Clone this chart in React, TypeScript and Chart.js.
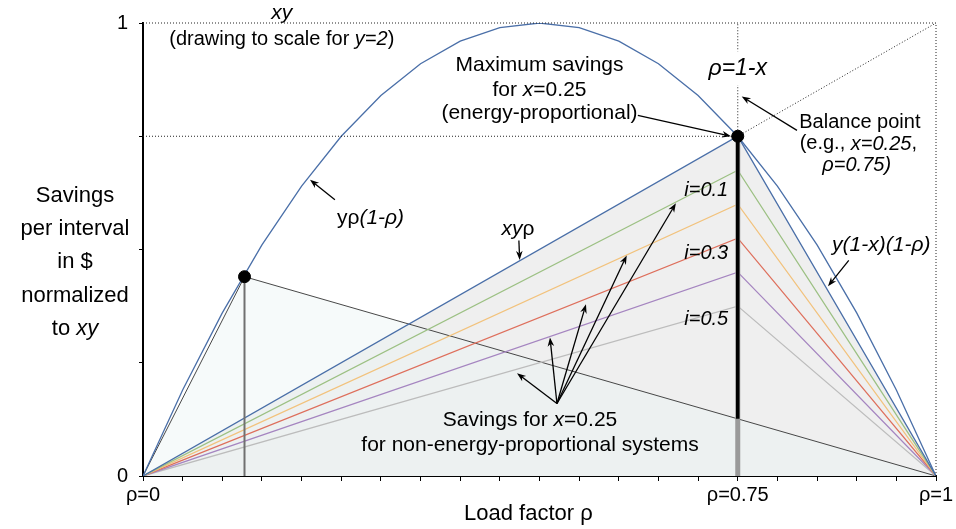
import { useEffect, useRef } from 'react';
import { Chart, registerables } from 'chart.js';
Chart.register(...registerables);

const FAM = '"Liberation Sans", Arial, Helvetica, sans-serif';

// Load factor grid and the drawn parabola y·ρ(1-ρ) normalized to xy (y=2, x=0.25)
const RHO_GRID = [0, 0.05, 0.1, 0.15, 0.2, 0.25, 0.3, 0.35, 0.4, 0.45, 0.5, 0.55, 0.6, 0.65, 0.7, 0.75, 0.8, 0.85, 0.9, 0.95, 1];
const PARABOLA = [0, 0.19, 0.36, 0.51, 0.64, 0.75, 0.84, 0.91, 0.96, 0.99, 1, 0.99, 0.96, 0.91, 0.84, 0.75, 0.64, 0.51, 0.36, 0.19, 0];

// Energy-proportional savings (xyρ up to balance, y(1-x)(1-ρ) after)
const KINK_RHO = [0, 0.75, 1];
const ENERGY_PROP = [0, 0.75, 0];

// Non-energy-proportional systems: value at the kink
const I_NAMES = ['i=0.1', 'i=0.2', 'i=0.3', 'i=0.4', 'i=0.5'];
const I_PEAKS = [0.675, 0.6, 0.525, 0.45, 0.375];

// Left point on the parabola and its triangle
const LEFT_RHO = [0, 0.128, 1];
const LEFT_VALS = [0, 0.44, 0];

// Balance point
const BALANCE_RHO = 0.75;
const BALANCE_VAL = 0.75;

const X_LABEL_VALUES = [0, 0.75, 1];
const X_LABEL_TEXT = ['ρ=0', 'ρ=0.75', 'ρ=1'];
const Y_LABEL_VALUES = [0, 1];
const Y_LABEL_TEXT = ['0', '1'];

const BLUE = '#4a6fa8';
const I_COLORS = ['#9cc083', '#f2c27c', '#de6f5c', '#a585c0', '#bcbcbc'];

const pts = (xs: number[], ys: number[]) => xs.map((x, i) => ({ x, y: ys[i] }));

type Seg = [string, boolean];

function rich(ctx: CanvasRenderingContext2D, segs: Seg[], x: number, y: number, align: 'left' | 'center' | 'right', size: number) {
  const fn = `${size}px ${FAM}`;
  const fi = `italic ${size}px ${FAM}`;
  let w = 0;
  const ws = segs.map(([t, it]) => {
    ctx.font = it ? fi : fn;
    const m = ctx.measureText(t).width;
    w += m;
    return m;
  });
  let cx = align === 'left' ? x : align === 'center' ? x - w / 2 : x - w;
  ctx.textBaseline = 'middle';
  ctx.textAlign = 'left';
  ctx.fillStyle = '#000';
  segs.forEach(([t, it], i) => {
    ctx.font = it ? fi : fn;
    ctx.fillText(t, cx, y);
    cx += ws[i];
  });
  return w;
}

function arrow(ctx: CanvasRenderingContext2D, x1: number, y1: number, x2: number, y2: number) {
  const a = Math.atan2(y2 - y1, x2 - x1);
  const L = 9;
  const W = 3.3;
  ctx.save();
  ctx.strokeStyle = '#000';
  ctx.fillStyle = '#000';
  ctx.lineWidth = 1.3;
  ctx.beginPath();
  ctx.moveTo(x1, y1);
  ctx.lineTo(x2 - L * 0.7 * Math.cos(a), y2 - L * 0.7 * Math.sin(a));
  ctx.stroke();
  ctx.beginPath();
  ctx.moveTo(x2, y2);
  ctx.lineTo(x2 - L * Math.cos(a) + W * Math.sin(a), y2 - L * Math.sin(a) - W * Math.cos(a));
  ctx.lineTo(x2 - L * 0.7 * Math.cos(a), y2 - L * 0.7 * Math.sin(a));
  ctx.lineTo(x2 - L * Math.cos(a) - W * Math.sin(a), y2 - L * Math.sin(a) + W * Math.cos(a));
  ctx.closePath();
  ctx.fill();
  ctx.restore();
}

const annotPlugin = {
  id: 'annot',
  afterDatasetsDraw(chart: any) {
    const ctx: CanvasRenderingContext2D = chart.ctx;
    const xs = chart.scales.x;
    const ys = chart.scales.y;
    const X = (v: number) => xs.getPixelForValue(v);
    const Y = (v: number) => ys.getPixelForValue(v);
    const ca = chart.chartArea;
    ctx.save();

    // ρ=1-x label with white backing (interrupts dotted line)
    ctx.font = `italic 23px ${FAM}`;
    const w1 = ctx.measureText('ρ=1-x').width;
    ctx.fillStyle = '#fff';
    ctx.fillRect(X(0.75) - w1 / 2 - 3, Y(0.9) - 17, w1 + 6, 34);
    rich(ctx, [['ρ=1-x', true]], X(0.75), Y(0.9), 'center', 23);

    // top labels
    rich(ctx, [['xy', true]], X(0.175), Y(1.021), 'center', 21);
    rich(ctx, [['(drawing to scale for ', false], ['y=2', true], [')', false]], X(0.175), Y(0.964), 'center', 20);

    // Maximum savings
    rich(ctx, [['Maximum savings', false]], X(0.5), Y(0.907), 'center', 21);
    rich(ctx, [['for ', false], ['x', true], ['=0.25', false]], X(0.5), Y(0.852), 'center', 21);
    rich(ctx, [['(energy-proportional)', false]], X(0.5), Y(0.801), 'center', 21);
    arrow(ctx, X(0.624), Y(0.796), X(0.7415), Y(0.75));

    // Balance point
    rich(ctx, [['Balance point', false]], X(0.904), Y(0.781), 'center', 20);
    rich(ctx, [['(e.g., ', false], ['x=0.25', true], [',', false]], X(0.902), Y(0.733), 'center', 20);
    rich(ctx, [['ρ=0.75)', true]], X(0.9), Y(0.686), 'center', 20);
    arrow(ctx, X(0.8247), Y(0.763), X(0.755), Y(0.838));

    // parabola label
    rich(ctx, [['yρ', false], ['(1-ρ)', true]], X(0.2446), Y(0.569), 'left', 21);
    arrow(ctx, X(0.242), Y(0.61), X(0.2106), Y(0.654));

    // xyρ
    rich(ctx, [['xy', true], ['ρ', false]], X(0.473), Y(0.545), 'center', 21);
    arrow(ctx, X(0.474), Y(0.52), X(0.475), Y(0.477));

    // y(1-x)(1-ρ)
    rich(ctx, [['y(1-x)(1-ρ)', true]], X(0.869), Y(0.509), 'left', 21);
    arrow(ctx, X(0.89), Y(0.476), X(0.8638), Y(0.419));

    // i labels
    rich(ctx, [[I_NAMES[0], true]], X(0.738), Y(0.631), 'right', 20);
    rich(ctx, [[I_NAMES[2], true]], X(0.738), Y(0.492), 'right', 20);
    rich(ctx, [[I_NAMES[4], true]], X(0.738), Y(0.346), 'right', 20);

    // Savings for non-EP systems
    rich(ctx, [['Savings for ', false], ['x', true], ['=0.25', false]], X(0.488), Y(0.123), 'center', 21);
    rich(ctx, [['for non-energy-proportional systems', false]], X(0.488), Y(0.068), 'center', 21);
    const targets: [number, number][] = [[0.4716, 0.227], [0.5132, 0.306], [0.5586, 0.379], [0.61, 0.487], [0.672, 0.602]];
    targets.forEach(([tx, ty]) => arrow(ctx, X(0.522), Y(0.16), X(tx), Y(ty)));

    // axis titles
    rich(ctx, [['Load factor ρ', false]], X(0.486), ca.bottom + 38, 'center', 22);
    const tl: Seg[][] = [
      [['Savings', false]],
      [['per interval', false]],
      [['in $', false]],
      [['normalized', false]],
      [['to ', false], ['xy', true]],
    ];
    const cy = Y(0.472);
    tl.forEach((segs, i) => rich(ctx, segs, ca.left - 68, cy + (i - 2) * 33.3, 'center', 22));

    ctx.restore();
  },
};

export default function App() {
  const ref = useRef<HTMLCanvasElement | null>(null);
  useEffect(() => {
    if (!ref.current) return;
    const crossAtKink = LEFT_VALS[1] * (1 - BALANCE_RHO) / (1 - LEFT_RHO[1]);
    const line = (data: any[], color: string, width: number, order: number, extra: any = {}) => ({
      data,
      showLine: true,
      borderColor: color,
      borderWidth: width,
      pointRadius: 0,
      fill: false,
      tension: 0,
      order,
      ...extra,
    });
    const dotted = (data: any[]) => line(data, '#222', 1, 3, { borderDash: [1, 2], clip: false });
    const datasets: any[] = [
      {
        data: [{ x: LEFT_RHO[1], y: LEFT_VALS[1] }, { x: BALANCE_RHO, y: BALANCE_VAL }],
        showLine: false,
        pointRadius: 6,
        pointBackgroundColor: '#000',
        pointBorderColor: '#000',
        order: 0,
        clip: false,
      },
      line([{ x: BALANCE_RHO, y: crossAtKink }, { x: BALANCE_RHO, y: BALANCE_VAL }], '#000', 3.5, 1),
      line([{ x: BALANCE_RHO, y: 0 }, { x: BALANCE_RHO, y: BALANCE_VAL }], '#9a9a9a', 5, 2),
      line([{ x: LEFT_RHO[1], y: 0 }, { x: LEFT_RHO[1], y: LEFT_VALS[1] }], '#707070', 2, 2),
      dotted([{ x: BALANCE_RHO, y: BALANCE_VAL }, { x: 1, y: 1 }]),
      dotted([{ x: 0, y: BALANCE_VAL }, { x: BALANCE_RHO, y: BALANCE_VAL }]),
      dotted([{ x: BALANCE_RHO, y: BALANCE_VAL }, { x: BALANCE_RHO, y: 1 }]),
      dotted([{ x: 0, y: 1 }, { x: 1, y: 1 }]),
      dotted([{ x: 1, y: 0 }, { x: 1, y: 1 }]),
      line(pts(RHO_GRID, PARABOLA), BLUE, 1.3, 4),
      line(pts(KINK_RHO, ENERGY_PROP), BLUE, 1.3, 5),
      ...I_PEAKS.map((p, i) => line(pts(KINK_RHO, [0, p, 0]), I_COLORS[i], 1.3, 6)),
      line(pts(LEFT_RHO, LEFT_VALS), '#333', 0.9, 7, { fill: 'origin', backgroundColor: 'rgba(236,244,244,0.45)' }),
      line(pts(KINK_RHO, ENERGY_PROP), 'rgba(0,0,0,0)', 0, 8, { fill: 'origin', backgroundColor: '#efefef' }),
    ];
    const near = (v: number, arr: number[]) => arr.findIndex((a) => Math.abs(a - v) < 1e-6);
    const chart = new Chart(ref.current, {
      type: 'scatter',
      data: { datasets },
      options: {
        animation: false,
        responsive: true,
        maintainAspectRatio: false,
        events: [],
        layout: { padding: { top: 23, right: 20, left: 0, bottom: 0 } },
        plugins: { legend: { display: false }, tooltip: { enabled: false } },
        scales: {
          x: {
            type: 'linear',
            min: 0,
            max: 1,
            afterFit: (s: any) => { s.height = 53; },
            border: { display: true, color: '#000', width: 2 },
            grid: { display: true, drawOnChartArea: false, drawTicks: true, tickLength: 5, tickColor: '#000', color: '#000' },
            ticks: {
              stepSize: 0.05,
              autoSkip: false,
              maxRotation: 0,
              padding: 2,
              color: '#000',
              font: { family: FAM, size: 20 },
              callback: (v: any) => {
                const k = near(Number(v), X_LABEL_VALUES);
                return k >= 0 ? X_LABEL_TEXT[k] : '';
              },
            },
          },
          y: {
            type: 'linear',
            min: 0,
            max: 1,
            afterFit: (s: any) => { s.width = 143; },
            border: { display: true, color: '#000', width: 2 },
            grid: { display: true, drawOnChartArea: false, drawTicks: true, tickLength: 4, tickColor: '#000', color: '#000' },
            ticks: {
              stepSize: 0.25,
              autoSkip: false,
              padding: 11,
              color: '#000',
              font: { family: FAM, size: 20 },
              callback: (v: any) => {
                const k = near(Number(v), Y_LABEL_VALUES);
                return k >= 0 ? Y_LABEL_TEXT[k] : '';
              },
            },
          },
        },
      },
      plugins: [annotPlugin],
    } as any);
    return () => chart.destroy();
  }, []);
  return (
    <div style={{ position: 'fixed', left: 0, top: 0, width: 956, height: 529, background: '#fff' }}>
      <canvas ref={ref} />
    </div>
  );
}
